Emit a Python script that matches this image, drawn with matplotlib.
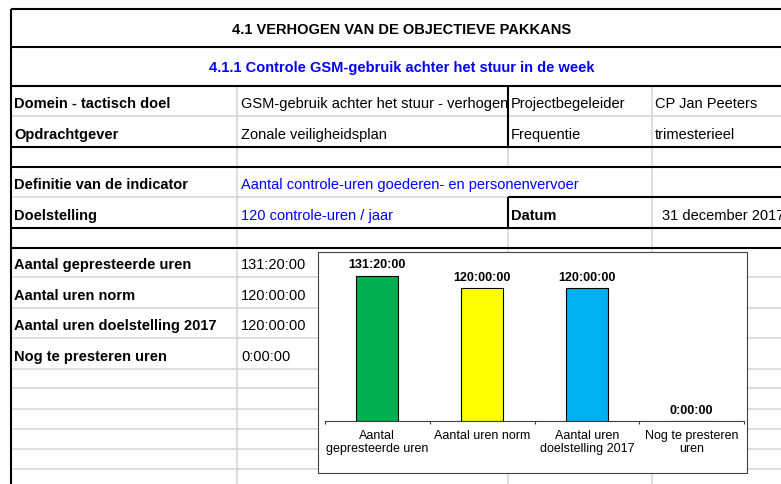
import matplotlib
matplotlib.use("Agg")
import matplotlib.pyplot as plt
from matplotlib.patches import Rectangle

plt.rcParams["font.family"] = ["Liberation Sans", "DejaVu Sans"]

W, H = 781, 485

# --- data ---------------------------------------------------------------
titel = "4.1 VERHOGEN VAN DE OBJECTIEVE PAKKANS"
subtitel = "4.1.1 Controle GSM-gebruik achter het stuur in de week"
info_labels = ["Domein - tactisch doel", "Opdrachtgever",
               "Definitie van de indicator", "Doelstelling"]
info_values = ["GSM-gebruik achter het stuur - verhogen", "Zonale veiligheidsplan",
               "Aantal controle-uren goederen- en personenvervoer", "120 controle-uren / jaar"]
meta_labels = ["Projectbegeleider", "Frequentie", "Datum"]
meta_values = ["CP Jan Peeters", "trimesterieel", "31 december 2017"]

categories = ["Aantal gepresteerde uren", "Aantal uren norm",
              "Aantal uren doelstelling 2017", "Nog te presteren uren"]
chart_labels = ["Aantal\ngepresteerde uren", "Aantal uren norm",
                "Aantal uren\ndoelstelling 2017", "Nog te presteren\nuren"]
minuten = [7880, 7200, 7200, 0]
bar_colors = ["#00b050", "#ffff00", "#00b0f0", "#7f7f7f"]


def fmt_tijd(m):
    return f"{m // 60}:{m % 60:02d}:00"


uren = [m / 60 for m in minuten]
tijden = [fmt_tijd(m) for m in minuten]

fig = plt.figure(figsize=(W / 100, H / 100), dpi=100)
fig.patch.set_facecolor("white")

# --- spreadsheet grid (pixel coordinates) -------------------------------
tab = fig.add_axes([0, 0, 1, 1])
tab.set_xlim(0, W)
tab.set_ylim(H, 0)
tab.axis("off")

GRAY = "#d4d4d4"
THICK = dict(color="black", lw=1.5, solid_capstyle="butt", zorder=3)
THIN = dict(color=GRAY, lw=1.1, solid_capstyle="butt", zorder=2)


def hline(y, x0, x1, style):
    tab.plot([x0, x1], [y, y], **style)


def vline(x, y0, y1, style):
    tab.plot([x, x], [y0, y1], **style)


for y in [117, 278, 309, 339, 370, 389, 410, 430, 450, 470]:
    hline(y, 11, W, THIN)
hline(198, 11, 508, THIN)
vline(237, 87, H, THIN)
vline(652, 87, H, THIN)
vline(508, 148, 168, THIN)
vline(508, 229, H, THIN)

for y in [10, 48, 87, 148, 168, 229, 249]:
    hline(y, 11, W, THICK)
hline(198, 508, W, THICK)
vline(11, 10, H, THICK)
vline(508, 87, 148, THICK)
vline(508, 198, 229, THICK)

FS = 10.5
tab.text(402, 34, titel, ha="center", va="baseline", fontsize=FS, fontweight="bold")
tab.text(402, 72, subtitel, ha="center", va="baseline", fontsize=FS,
         fontweight="bold", color="#0000ff")

info_rows = [117, 148, 198, 229]
for lab, val, yb in zip(info_labels, info_values, info_rows):
    tab.text(14, yb - 9, lab, va="baseline", fontsize=FS, fontweight="bold")
    col = "black" if yb < 160 else "#0000ff"
    t = tab.text(241, yb - 9, val, va="baseline", fontsize=FS, color=col)
    if yb == 117:
        t.set_clip_path(Rectangle((237, 87), 270, 30, transform=tab.transData))

meta_rows = [117, 148, 229]
for lab, val, yb in zip(meta_labels, meta_values, meta_rows):
    bold = "bold" if lab == "Datum" else "normal"
    tab.text(511, yb - 9, lab, va="baseline", fontsize=FS, fontweight=bold)
    x = 662 if lab == "Datum" else 655
    tab.text(x, yb - 9, val, va="baseline", fontsize=FS)

for lab, tijd, yb in zip(categories, tijden, [278, 309, 339, 370]):
    tab.text(14, yb - 9, lab, va="baseline", fontsize=FS, fontweight="bold")
    tab.text(241, yb - 9, tijd, va="baseline", fontsize=FS)

# chart frame
tab.add_patch(Rectangle((318, 253), 429, 221, facecolor="white",
                        edgecolor="#404040", lw=0.8, zorder=5))

# --- embedded bar chart --------------------------------------------------
left, right, bottom, top = 325, 744, 422, 262
ax = fig.add_axes([left / W, (H - bottom) / H, (right - left) / W, (bottom - top) / H])
ax.patch.set_visible(False)
x = range(len(uren))
ax.bar(x, uren, width=0.4, color=bar_colors, edgecolor="black", linewidth=0.8)
for i, (v, t) in enumerate(zip(uren, tijden)):
    ax.annotate(t, (i, v), xytext=(0, 6), textcoords="offset points",
                ha="center", va="baseline", fontsize=9, fontweight="bold")

ax.set_xlim(-0.5, len(uren) - 0.5)
ax.set_ylim(0, (bottom - top) / 1.106)
for s in ["left", "right", "top"]:
    ax.spines[s].set_visible(False)
ax.spines["bottom"].set_color("#404040")
ax.spines["bottom"].set_linewidth(0.8)
ax.set_yticks([])
ax.set_xticks(list(x))
ax.set_xticklabels(chart_labels, fontsize=9, linespacing=1.1, va="top")
ax.tick_params(axis="x", which="major", length=0, pad=5.5)
ax.set_xticks([i - 0.5 for i in range(len(uren) + 1)], minor=True)
ax.tick_params(axis="x", which="minor", length=2.2, width=0.8,
               color="#404040", direction="out")

fig.savefig("out.png", dpi=100)
